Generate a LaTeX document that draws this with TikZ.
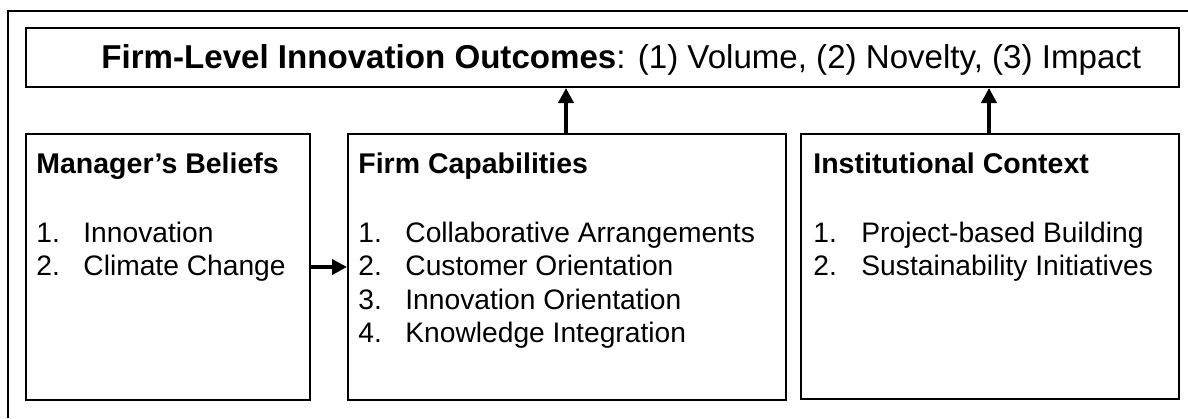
\documentclass[tikz,border=0pt]{standalone}
\usepackage{fontspec}
\setmainfont{Liberation Sans}
\usetikzlibrary{arrows.meta}
\begin{document}
\begin{tikzpicture}[x=0.5pt,y=-0.5pt,
  box/.style={draw=black, line width=1pt, inner sep=0pt, anchor=north west},
  txt/.style={anchor=base west, inner sep=0pt, font=\fontsize{14.1pt}{17pt}\selectfont},
  head/.style={anchor=base west, inner sep=0pt, font=\fontsize{14.25pt}{17pt}\selectfont\bfseries},
  arr/.style={line width=2pt, -{Triangle[length=7.5pt,width=7.5pt]}}]
\useasboundingbox (0,0) rectangle (1188,418);
\draw[line width=1pt] (8,418) -- (8,11) -- (1188,11);
% boxes
\node[box, minimum width=576.5pt, minimum height=29.5pt] (top) at (25,27) {};
\node[box, minimum width=142pt, minimum height=133pt] (mb) at (25,133) {};
\node[box, minimum width=219pt, minimum height=133pt] (fc) at (347,133) {};
\node[box, minimum width=189pt, minimum height=132.5pt] (ic) at (800,133) {};
% title
\node[anchor=base west, inner sep=0pt, font=\fontsize{16.55pt}{20pt}\selectfont] (title) at (101,68)
  {\textbf{Firm-Level Innovation Outcomes}: (1) Volume, (2) Novelty, (3) Impact};
% manager's beliefs
\node[head] (mbh) at (36,173) {Manager’s Beliefs};
\node[txt] (mb1n) at (36,242) {1.};
\node[txt] (mb1) at (83,242) {Innovation};
\node[txt] (mb2n) at (36,275.5) {2.};
\node[txt] (mb2) at (83,275.5) {Climate Change};
% firm capabilities
\node[head] (fch) at (358,173) {Firm Capabilities};
\node[txt] (fc1n) at (358,242) {1.};
\node[txt] (fc1) at (405,242) {Collaborative Arrangements};
\node[txt] (fc2n) at (358,275.5) {2.};
\node[txt] (fc2) at (405,275.5) {Customer Orientation};
\node[txt] (fc3n) at (358,309) {3.};
\node[txt] (fc3) at (405,309) {Innovation Orientation};
\node[txt] (fc4n) at (358,342.5) {4.};
\node[txt] (fc4) at (405,342.5) {Knowledge Integration};
% institutional context
\node[head] (ich) at (813,173) {Institutional Context};
\node[txt] (ic1n) at (813,242) {1.};
\node[txt] (ic1) at (861,242) {Project-based Building};
\node[txt] (ic2n) at (813,275.5) {2.};
\node[txt] (ic2) at (861,275.5) {Sustainability Initiatives};
% arrows
\coordinate (ah) at (0,267);
\coordinate (av1) at (566,0);
\coordinate (av2) at (989,0);
\draw[arr] (mb.east |- ah) -- (fc.west |- ah);
\draw[arr] (av1 |- fc.north) -- (av1 |- top.south);
\draw[arr] (av2 |- ic.north) -- (av2 |- top.south);
\end{tikzpicture}
\end{document}
